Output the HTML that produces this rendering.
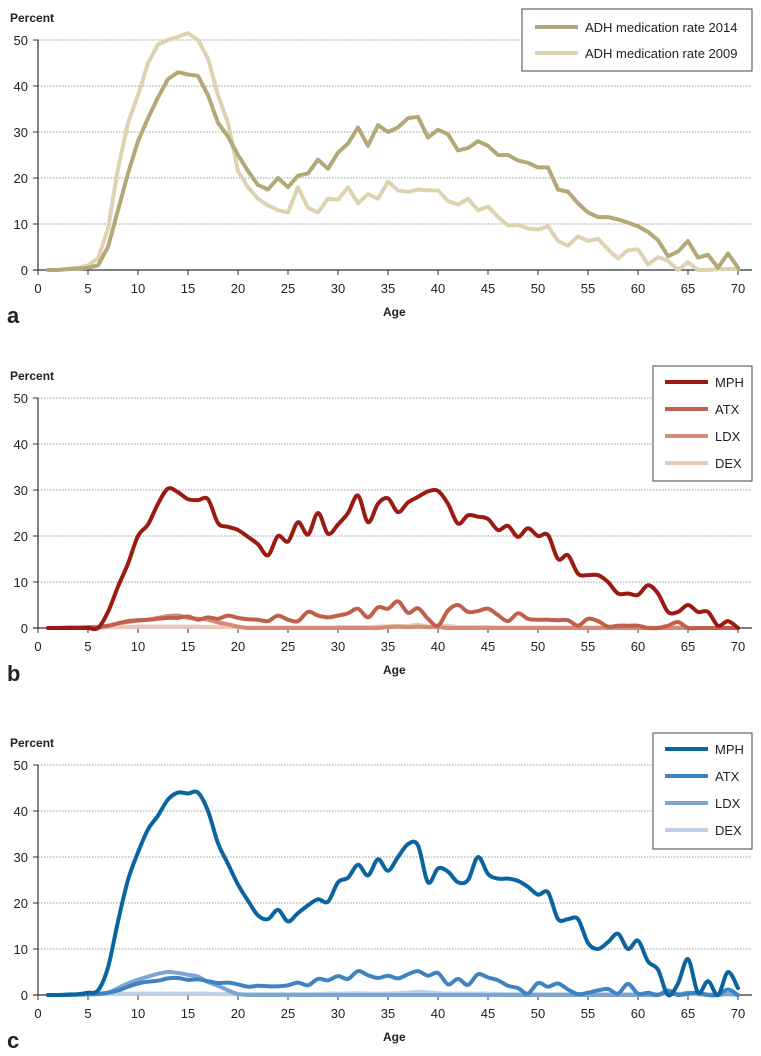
<!DOCTYPE html>
<html><head><meta charset="utf-8"><style>
body{margin:0;background:#fff;}
svg{display:block;font-family:"Liberation Sans",sans-serif;}
</style></head><body>
<svg id="chart" width="761" height="1056" viewBox="0 0 761 1056" xmlns="http://www.w3.org/2000/svg"></svg>
<script>
const ages = Array.from({length:70},(_, i)=>i+1);
const xTicks = [0,5,10,15,20,25,30,35,40,45,50,55,60,65,70];
const yTicks = [0,10,20,30,40,50];
const rate2014 = [0,0,0.2,0.3,0.5,1,5,13,21,28,33,37.5,41.5,43,42.5,42.2,38,32,29,25,21.5,18.5,17.5,20,18,20.5,21,24,22,25.5,27.5,31,27,31.5,30,31,33,33.3,28.8,30.5,29.5,26,26.5,28,27,25,25,23.8,23.3,22.3,22.3,17.5,17,14.5,12.5,11.5,11.5,11,10.3,9.5,8.3,6.5,3,4,6.3,2.7,3.3,0.5,3.6,0.5];
const rate2009 = [0,0,0.3,0.5,1,2.5,9,22,32,38,45,49,50,50.7,51.5,50,46,38,32,21.5,18,15.5,14,13,12.5,18,13.5,12.5,15.5,15.3,18,14.5,16.5,15.5,19.2,17.3,17,17.5,17.3,17.3,15,14.2,15.5,13,13.8,11.5,9.7,9.8,9,8.8,9.5,6.3,5.3,7.3,6.3,6.8,4.5,2.5,4.3,4.5,1.2,2.8,2,0,1.7,0,0,0.2,0.2,0.3];
const bMPH = [0,0,0,0,0,0,3.5,9,14,20,22.5,27,30.3,29.5,28,27.8,28,22.8,22,21.3,19.8,18.2,15.8,20,18.8,23,20.3,25,20.5,22.5,25,28.8,23,27,28.2,25.2,27.3,28.5,29.7,29.8,27,22.7,24.5,24.2,23.7,21.3,22.2,19.8,21.7,20,20.2,15,15.8,11.8,11.5,11.5,10,7.5,7.5,7.2,9.3,7.5,3.5,3.5,5,3.5,3.5,0.5,1.5,0];
const bATX = [0,0,0.1,0.1,0.2,0.2,0.5,1,1.5,1.7,1.8,2,2.2,2.2,2.5,1.8,2.3,2,2.7,2.2,1.9,1.8,1.5,2.7,1.8,1.5,3.5,2.7,2.3,2.7,3.2,4.2,2.3,4.5,4.2,5.8,3.3,4.3,2,0.5,3.8,5,3.5,3.7,4.2,2.8,1.5,3.2,2,1.8,1.8,1.7,1.7,0.5,2,1.5,0.3,0.5,0.5,0.5,0,0,0.5,1.3,0,0,0,0,0,0];
const bLDX = [0,0,0,0.1,0.1,0.2,0.5,1,1.3,1.6,1.8,2.2,2.6,2.7,2.2,2,1.8,1.2,0.8,0.3,0,0,0,0,0,0,0,0,0,0,0,0,0,0,0.2,0.3,0.2,0.3,0.2,0.2,0,0,0,0,0,0,0,0,0,0,0,0,0,0,0,0,0,0,0,0,0,0,0,0,0,0,0,0,0,0];
const bDEX = [0,0,0,0,0,0,0.1,0.2,0.2,0.3,0.3,0.3,0.3,0.3,0.3,0.3,0.2,0.2,0.2,0.2,0.1,0.1,0.1,0.1,0.1,0.1,0.1,0.1,0.1,0.2,0.2,0.2,0.2,0.3,0.4,0.5,0.4,0.7,0.3,0.3,0.5,0.2,0.2,0.2,0.2,0.1,0.1,0.1,0.1,0.1,0.1,0.1,0.1,0.1,0.1,0.1,0.1,0.1,0.1,0.1,0.1,0.1,0.1,0.1,0.1,0,0,0,0,0];
const cMPH = [0,0,0.1,0.2,0.5,1,6,16,25,31,36,39,42.5,44,43.8,44,40,33,28.5,24,20.5,17.3,16.5,18.5,16,17.8,19.5,20.8,20.3,24.5,25.5,28.3,26,29.5,27,30,32.8,32.5,24.5,27.5,26.8,24.5,25,30,26.3,25.3,25.3,24.8,23.5,21.8,22.3,16.5,16.5,16.5,11.3,10,11.5,13.3,10,11.8,7.3,5.5,0,2.5,7.8,0.5,3,0,5,1.5];
const cATX = [0,0,0,0.1,0.2,0.3,0.5,1,1.8,2.5,2.9,3.1,3.6,3.7,3.3,3.4,3,2.6,2.7,2.3,1.8,2,1.9,1.9,2.1,2.7,2.1,3.5,3.2,4.1,3.5,5.2,4.3,3.7,4.2,3.6,4.5,5.2,4.2,4.8,2.3,3.5,2.2,4.5,3.8,3.2,2,1.5,0.3,2.6,1.8,2.5,1.2,0.2,0.5,1,1.3,0.3,2.4,0.3,0.5,0,0.8,0,0.3,0.5,0,0,1.2,0];
const cLDX = [0,0,0,0.1,0.1,0.2,0.5,1.5,2.5,3.3,4,4.6,5,4.8,4.4,4,2.8,2,1,0.2,0,0,0,0,0,0,0,0,0,0,0,0,0,0,0,0,0,0,0,0,0,0,0,0,0,0,0,0,0,0,0,0,0,0,0,0,0,0,0,0,0,0,1,0.2,0.5,0.2,0,0,0.2,0];
const cDEX = [0,0,0,0,0.1,0.2,0.2,0.3,0.3,0.3,0.3,0.3,0.3,0.3,0.3,0.3,0.3,0.2,0.2,0.2,0.2,0.2,0.2,0.2,0.2,0.2,0.2,0.2,0.3,0.3,0.3,0.4,0.3,0.3,0.3,0.4,0.5,0.7,0.6,0.4,0.3,0.3,0.3,0.3,0.3,0.2,0.2,0.2,0.2,0.2,0.2,0.2,0.2,0.2,0.2,0.2,0.2,0.2,0.2,0.2,0.2,0.2,0.2,0.2,0.2,0.2,0.2,0.2,0.2,0];

const NS="http://www.w3.org/2000/svg";
const svg=document.getElementById('chart');
function el(tag,attrs,parent,text){const e=document.createElementNS(NS,tag);for(const k in attrs)e.setAttribute(k,attrs[k]);if(text!==undefined)e.textContent=text;(parent||svg).appendChild(e);return e;}
const X0=38, XS=10, YS=4.6;
function xScale(a){return X0+a*XS;}

function smoothPath(pts){
  let d=`M${pts[0][0]},${pts[0][1]}`;
  for(let i=0;i<pts.length-1;i++){
    const p0=pts[Math.max(0,i-1)],p1=pts[i],p2=pts[i+1],p3=pts[Math.min(pts.length-1,i+2)];
    const c1=[p1[0]+(p2[0]-p0[0])/6,p1[1]+(p2[1]-p0[1])/6];
    const c2=[p2[0]-(p3[0]-p1[0])/6,p2[1]-(p3[1]-p1[1])/6];
    d+=` C${c1[0].toFixed(1)},${c1[1].toFixed(1)} ${c2[0].toFixed(1)},${c2[1].toFixed(1)} ${p2[0].toFixed(1)},${p2[1].toFixed(1)}`;
  }
  return d;
}

function panel(id,baseY,letter,series,smooth,legend){
  const g=el('g',{},svg);
  
  
  const yScale=v=>baseY-v*YS;
  const pl=el('text',{x:10,y:baseY-248,'font-size':12,'font-weight':'bold',fill:'#222'},g,'Percent');
  
  
  yTicks.forEach(t=>{
    const y=yScale(t);
    if(t>0){const gl=el('line',{x1:X0,x2:752,y1:y,y2:y,stroke:'#999','stroke-width':1,'stroke-dasharray':'1.5,1.5'},g);
      
      }
    el('line',{x1:X0-5,x2:X0,y1:y,y2:y,stroke:'#333','stroke-width':1},g);
    const tl=el('text',{x:28,y:y+5,'font-size':13,'text-anchor':'end',fill:'#222'},g,t);
    
    
  });
  xTicks.forEach(t=>{
    const x=xScale(t);
    el('line',{x1:x,x2:x,y1:baseY,y2:baseY+5,stroke:'#333','stroke-width':1},g);
    const tl=el('text',{x:x,y:baseY+23,'font-size':13,'text-anchor':'middle',fill:'#222'},g,t);
    
    
  });
  el('line',{x1:X0,x2:X0,y1:baseY-230,y2:baseY,stroke:'#333','stroke-width':1.2},g);
  el('line',{x1:X0-5,x2:752,y1:baseY,y2:baseY,stroke:'#333','stroke-width':1.2},g);
  const ax=el('text',{x:383,y:baseY+46,'font-size':12,'font-weight':'bold',fill:'#222'},g,'Age');
  
  
  const lt=el('text',{x:7,y:baseY+53,'font-size':22,'font-weight':'bold',fill:'#222'},g,letter);
  
  
  series.slice().reverse().forEach(s=>{
    const pts=s.data.map((v,i)=>[xScale(ages[i]),yScale(v)]);
    const d=smooth?smoothPath(pts):'M'+pts.map(p=>p[0]+','+p[1]).join(' L');
    const p=el('path',{d:d,fill:'none',stroke:s.color,'stroke-width':4,'stroke-linejoin':'round','stroke-linecap':'round'},g);
    
    
  });
  const lg=el('g',{},g);
  
  
  el('rect',{x:legend.x,y:legend.y,width:752-legend.x,height:legend.h,fill:'#fff',stroke:'#444','stroke-width':1},lg);
  series.forEach((s,i)=>{
    const y=legend.y+legend.first+i*legend.step;
    el('line',{x1:legend.x+legend.lx,x2:legend.x+legend.lx+43,y1:y,y2:y,stroke:s.color,'stroke-width':4},lg);
    const t=el('text',{x:legend.x+legend.lx+50,y:y+5,'font-size':13,fill:'#222'},lg,s.name);
    
    
  });
}
panel('a',270,'a',[{name:'ADH medication rate 2014',data:rate2014,color:'#b5a878'},{name:'ADH medication rate 2009',data:rate2009,color:'#ddd3b2'}],false,{x:522,y:9,h:62,first:18,step:26,lx:13});
panel('b',628,'b',[{name:'MPH',data:bMPH,color:'#9b1a12'},{name:'ATX',data:bATX,color:'#c0604c'},{name:'LDX',data:bLDX,color:'#d38c77'},{name:'DEX',data:bDEX,color:'#ecc7b8'}],true,{x:653,y:366,h:115,first:16,step:27,lx:12});
panel('c',995,'c',[{name:'MPH',data:cMPH,color:'#0a64a0'},{name:'ATX',data:cATX,color:'#3f84c0'},{name:'LDX',data:cLDX,color:'#7ca5d3'},{name:'DEX',data:cDEX,color:'#bdd0e8'}],true,{x:653,y:733,h:116,first:16,step:27,lx:12});
</script>
</body></html>
